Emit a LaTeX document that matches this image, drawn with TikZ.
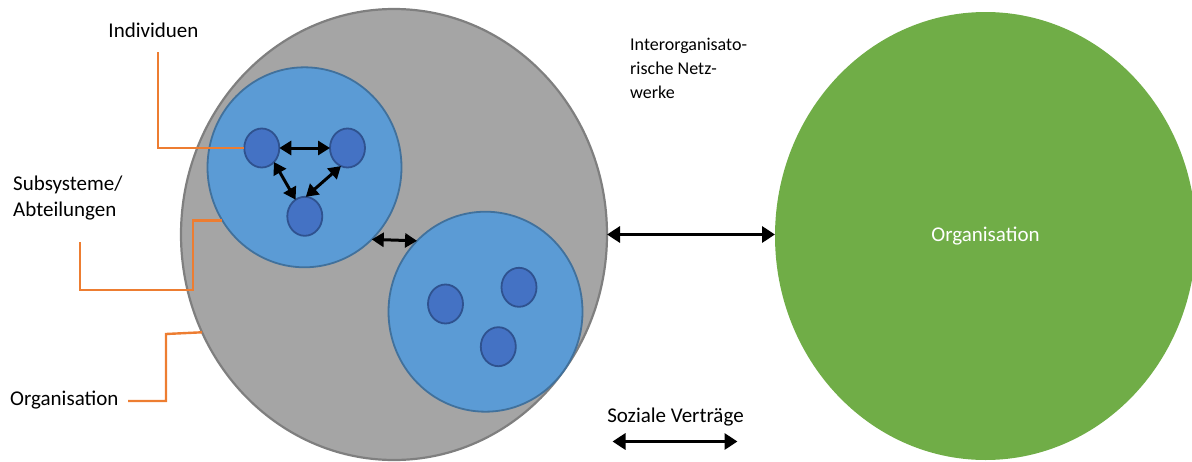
\documentclass[tikz,border=0pt]{standalone}
\usepackage{fontspec}
\setmainfont{Carlito}
\usetikzlibrary{shapes.geometric,arrows.meta}
\definecolor{orgGray}{HTML}{A5A5A5}
\definecolor{orgGrayLine}{HTML}{7F7F7F}
\definecolor{subBlue}{HTML}{5B9BD5}
\definecolor{subBlueLine}{HTML}{41719C}
\definecolor{indBlue}{HTML}{4472C4}
\definecolor{indBlueLine}{HTML}{2F528F}
\definecolor{orgGreen}{HTML}{70AD47}
\definecolor{leadOrange}{HTML}{ED7D31}
\tikzset{
  blob/.style={ellipse, inner sep=0pt, outer sep=0pt},
  orgbody/.style={blob, fill=orgGray, draw=orgGrayLine, line width=2.2pt,
                  minimum width=426pt, minimum height=451pt},
  subsys/.style={blob, fill=subBlue, draw=subBlueLine, line width=1.8pt,
                 minimum width=194pt, minimum height=200pt},
  person/.style={blob, fill=indBlue, draw=indBlueLine, line width=1.8pt,
                 minimum width=35pt, minimum height=39pt},
  partner/.style={blob, fill=orgGreen, minimum width=421pt, minimum height=448pt,
                  text=white, font=\fontsize{21}{25}\selectfont},
  biarrow/.style={line width=3.2pt, {Triangle[length=13pt,width=16pt]}-{Triangle[length=13pt,width=16pt]}},
  smallarrow/.style={line width=3pt, {Triangle[length=12pt,width=14pt]}-{Triangle[length=12pt,width=14pt]}},
  lead/.style={draw=leadOrange, line width=2.4pt},
  label/.style={font=\fontsize{21}{26.7}\selectfont, inner sep=0pt, align=left},
  note/.style={font=\fontsize{18}{24}\selectfont, inner sep=0pt, align=left}
}
\begin{document}
\begin{tikzpicture}[x=1pt, y=-1pt]
\useasboundingbox (0,0) rectangle (1192,461);

% organisation with its subsystems and individuals
\node[orgbody] (org) at (394,234.5) {};
\node[subsys] (up) at (304.5,167.3) {};
\node[subsys] (low) at (485.5,311.7) {};

\node[person] (i1) at (261.8,148) {};
\node[person] (i2) at (347.5,148) {};
\node[person] (i3) at (304.8,216.3) {};
\node[person] (j1) at (445.5,304) {};
\node[person] (j2) at (519,287.3) {};
\node[person] (j3) at (498.3,346.7) {};

% partner organisation
\node[partner] (green) at (985.5,236) {Organisation};

% relations
\draw[smallarrow] (i1.east) -- (i2.west);
\draw[smallarrow] (i1.-49) -- (i3.119);
\draw[smallarrow] (i2.-110) -- (i3.87);
\draw[smallarrow] (up.-47) -- (low.134);
\draw[biarrow] (org.east) -- (org.east -| green.west);

% legend arrow for contracts
\node[label, anchor=center] (vertr) at (675.5,417) {Soziale Verträge};
\coordinate (va) at (612.5,441.5);
\coordinate (vb) at (737.5,441.5);
\draw[biarrow] (va) -- (vb);

% network note
\node[note, anchor=west] (netz) at (630,68.5) {Interorganisato-\\rische Netz-\\werke};

% labels with leader lines
\node[label, anchor=center] (lind) at (153.5,30) {Individuen};
\node[label, anchor=west] (lsub) at (13,198) {Subsysteme/\\Abteilungen};
\node[label, anchor=west] (lorg) at (10,400.5) {Organisation};

\coordinate (a0) at (158,52);
\draw[lead] (a0) |- (i1.west);

\coordinate (s0) at (80,242);
\coordinate (s1) at (193,290);
\draw[lead] (s0) |- (s1) |- (up.213);

\coordinate (o0) at (128,401);
\coordinate (o1) at (166,334);
\draw[lead] (o0) -| (o1) -- (org.207.5);
\end{tikzpicture}
\end{document}
